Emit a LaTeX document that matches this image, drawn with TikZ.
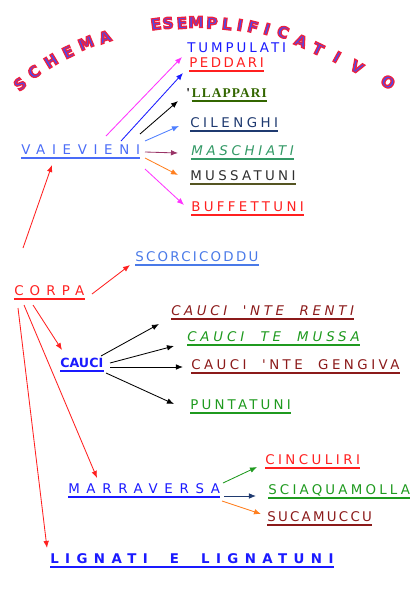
\documentclass[tikz,border=0pt]{standalone}
\usepackage{fontspec}
\usetikzlibrary{arrows.meta, positioning}

\newfontfamily\wordfont{DejaVu Sans}
\newfontfamily\serifword{Liberation Serif}
% letter filled in blue, stroked in red
\newcommand\outletter[1]{\special{pdf:literal direct 0.93 0.13 0.25 RG 0.9 w 2 Tr}#1\special{pdf:literal direct 0 Tr}}

\definecolor{tblue}{HTML}{1A1AFF}
\definecolor{wred}{HTML}{FF2020}
\definecolor{lgreen}{HTML}{336600}
\definecolor{navy}{HTML}{1F3A70}
\definecolor{mgreen}{HTML}{339966}
\definecolor{dgray}{HTML}{303030}
\definecolor{olivedk}{HTML}{555522}
\definecolor{vblue}{HTML}{4A6CF7}
\definecolor{sblue}{HTML}{4A7AE8}
\definecolor{dred}{HTML}{8B1A1A}
\definecolor{wgreen}{HTML}{1F9A1F}
\definecolor{amagenta}{HTML}{FF33FF}
\definecolor{alblue}{HTML}{4F7FFF}
\definecolor{apurple}{HTML}{993366}
\definecolor{aorange}{HTML}{FF7F1F}
\definecolor{titleblue}{HTML}{4A4AEE}

\begin{document}
\begin{tikzpicture}[
        x=0.025cm, y=-0.025cm,
        word/.style={font=\wordfont\fontsize{9.5}{11}\selectfont\addfontfeature{LetterSpace=#1},
                     anchor=west, inner xsep=0pt, inner ysep=2pt, text height=6.9pt, text depth=0pt},
        word/.default=25,
        bword/.style={word=#1, font=\wordfont\bfseries\fontsize{9.5}{11}\selectfont\addfontfeature{LetterSpace=#1}},
        iword/.style={word=#1, font=\wordfont\itshape\fontsize{9.5}{11}\selectfont\addfontfeature{LetterSpace=#1}},
        ul/.style={text=#1, append after command={(\tikzlastnode.south west) edge[draw=#1, line width=0.9pt] (\tikzlastnode.south east)}},
        arrow/.style={-{Latex[length=5pt, width=4pt]}, line width=0.6pt, draw=#1},
        title/.style={font=\wordfont\bfseries\fontsize{11}{13}\selectfont, text=titleblue, inner sep=0pt}
    ]
    \useasboundingbox (0,0) rectangle (420,592);

    % title along the arc
    \foreach \ch/\tx/\ty/\rot [count=\i] in {S/20/84/40, C/34/72/36, H/51/61/31, E/68/52/26, M/86/43/22, A/105/37/19,
            E/156/24/8, S/168/23/6, E/182/23/4, M/196/22/1, P/212/23/-3, L/227/24/-7, I/240/25/-10, F/253/27/-14,
            I/267/29/-17, C/283/32/-20, A/301/41/-23, T/318/49/-26, I/337/57/-29, V/357/67/-31, O/388/82/-34}
        \node[title, rotate=\rot] (t\i) at (\tx,\ty) {\outletter{\ch}};

    \node[word=22, text=tblue] (tump) at (187,48) {TUMPULATI};
    \node[word=19, ul=wred] (pedd) at (189,63) {PEDDARI};
    \node[word=0, font=\serifword\bfseries\fontsize{9.5}{11}\selectfont, text=black] (apos) at (186,93) {'};
    \node[word, font=\serifword\bfseries\fontsize{9.5}{11}\selectfont\addfontfeature{LetterSpace=8}, ul=lgreen, right=1pt of apos] (llap) {LLAPPARI};
    \node[word=26, ul=navy] (cile) at (190,123) {CILENGHI};
    \node[iword=28, ul=mgreen] (masc) at (191,151) {MASCHIATI};
    \node[word=25, ul=olivedk, text=dgray] (muss) at (190,176) {MUSSATUNI};
    \node[word=25, ul=wred] (buff) at (191,207) {BUFFETTUNI};

    \node[word=50, ul=vblue] (vaie) at (21,150) {VAIEVIENI};
    \node[word=17, ul=sblue] (scor) at (135,257) {SCORCICODDU};
    \node[word=46, ul=wred] (corp) at (14,291) {CORPA};

    \node[iword=27, ul=dred] (crent) at (171,311) {CAUCI~~'NTE~~RENTI};
    \node[iword=29, ul=wgreen] (cmuss) at (187,337) {CAUCI~~TE~~MUSSA};
    \node[word=26, ul=dred] (cgeng) at (191,365) {CAUCI~~'NTE~~GENGIVA};
    \node[word=24, ul=wgreen] (punt) at (190,405) {PUNTATUNI};
    \node[bword=0, ul=tblue, font=\wordfont\bfseries\fontsize{9}{11}\selectfont] (cauc) at (60,363) {CAUCI};

    \node[word=50, ul=tblue] (marr) at (68,489) {MARRAVERSA};
    \node[word=26, ul=wred] (cinc) at (265,460) {CINCULIRI};
    \node[word=24, ul=wgreen] (sciaq) at (268,490) {SCIAQUAMOLLA};
    \node[word=17, ul=dred] (suca) at (267,517) {SUCAMUCCU};
    \node[bword=48, ul=tblue] (lign) at (50,559) {LIGNATI~~E~~LIGNATUNI};

    % from VAIEVIENI
    \draw[arrow=amagenta] ([shift={(85,-14)}]vaie.west) -- ([shift={(-7,-6)}]pedd.west);
    \draw[arrow=tblue] ([shift={(100,-9)}]vaie.west) -- ([shift={(-6,10)}]pedd.west);
    \draw[arrow=black] ([shift={(119,-16)}]vaie.west) -- ([shift={(-8,8)}]apos.west);
    \draw[arrow=alblue] ([shift={(124,-9)}]vaie.west) -- ([shift={(-11,3)}]cile.west);
    \draw[arrow=apurple] ([shift={(124,2)}]vaie.west) -- ([shift={(-13,2)}]masc.west);
    \draw[arrow=aorange] ([shift={(124,8)}]vaie.west) -- ([shift={(-12,-1)}]muss.west);
    \draw[arrow=amagenta] ([shift={(124,19)}]vaie.west) -- ([shift={(-7,-2)}]buff.west);

    % from CORPA
    \draw[arrow=wred] ([shift={(9,-43)}]corp.west) -- ([shift={(31,15)}]vaie.west);
    \draw[arrow=wred] ([shift={(78,3)}]corp.west) -- ([shift={(-5,8)}]scor.west);
    \draw[arrow=wred] ([shift={(19,14)}]corp.west) -- ([shift={(2,-13)}]cauc.west);
    \draw[arrow=wred] ([shift={(10,14)}]corp.west) -- ([shift={(29,-11)}]marr.west);
    \draw[arrow=wred] ([shift={(4,17)}]corp.west) -- ([shift={(-3,-11)}]lign.west);

    % from CAUCI
    \draw[arrow=black] ([shift={(41,-7)}]cauc.west) -- ([shift={(-12,13)}]crent.west);
    \draw[arrow=black] ([shift={(50,0)}]cauc.west) -- ([shift={(-13,9)}]cmuss.west);
    \draw[arrow=black] ([shift={(50,4)}]cauc.west) -- ([shift={(-8,2)}]cgeng.west);
    \draw[arrow=black] ([shift={(46,10)}]cauc.west) -- ([shift={(-16,-1)}]punt.west);

    % from MARRAVERSA
    \draw[arrow=wgreen] ([shift={(155,-6)}]marr.west) -- ([shift={(-8,7)}]cinc.west);
    \draw[arrow=navy] ([shift={(156,7)}]marr.west) -- ([shift={(-12,6)}]sciaq.west);
    \draw[arrow=aorange] ([shift={(154,12)}]marr.west) -- ([shift={(-6,-3)}]suca.west);

\end{tikzpicture}
\end{document}
